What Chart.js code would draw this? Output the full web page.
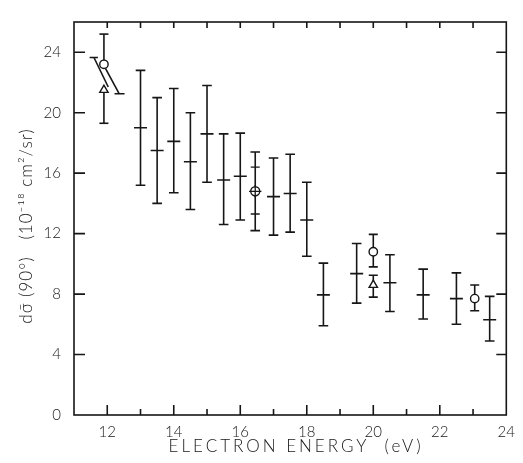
<!DOCTYPE html>
<html><head><meta charset="utf-8">
<script src="https://cdn.jsdelivr.net/npm/chart.js@4"></script>
<style>html,body{margin:0;padding:0;background:#fff;}</style>
</head><body>
<canvas id="c" width="523" height="463"></canvas>
<script>
// ---- data ----
const energies = [13, 13.5, 14, 14.5, 15, 15.5, 16, 17, 17.5, 18, 18.5, 19.5, 20.5, 21.5, 22.5, 23.5];
const values   = [19.0, 17.5, 18.1, 16.75, 18.6, 15.55, 15.8, 14.45, 14.65, 12.9, 7.95, 9.35, 8.75, 7.95, 7.7, 6.3];
const errLow   = [15.2, 14.0, 14.7, 13.6, 15.4, 12.6, 12.9, 11.9, 12.1, 10.5, 5.9, 7.4, 6.85, 6.35, 6.0, 4.9];
const errHigh  = [22.8, 21.0, 21.6, 20.0, 21.8, 18.6, 18.65, 17.0, 17.25, 15.4, 10.05, 11.35, 10.6, 9.65, 9.4, 7.85];

const circleE    = [11.9, 20.0, 23.05];
const circleV    = [23.2, 10.8, 7.7];
const circleLow  = [null, 9.8, 6.9];
const circleHigh = [25.2, 11.95, 8.6];

const triE    = [11.9, 20.0];
const triV    = [21.5, 8.6];
const triLow  = [19.3, 7.8];
const triHigh = [null, 9.25];

const crossE = [16.45];
const crossV = [14.8];
const crossLow = [12.2];
const crossHigh = [17.4];
const crossInner = [13.3, 16.4];

const bandLeftE = [11.6, 12.03];
const bandLeftV = [23.65, 21.7];
const bandRightE = [11.93, 12.36];
const bandRightV = [23.0, 21.25];
const bandTopCapE = [11.47, 11.72];
const bandTopCapV = [23.65, 23.65];
const bandBotCapE = [12.22, 12.52];
const bandBotCapV = [21.25, 21.25];

const xTickLabels = [12, 14, 16, 18, 20, 22, 24];
const yTickLabels = [0, 4, 8, 12, 16, 20, 24];

const INK = '#161616';
const pts = (xs, ys) => xs.map((x, i) => ({x, y: ys[i]}));

const errorBarPlugin = {
  id: 'errorBars',
  beforeDatasetsDraw(chart) {
    const ctx = chart.ctx, xs = chart.scales.x, ys = chart.scales.y;
    ctx.save();
    ctx.strokeStyle = INK; ctx.lineWidth = 1.6; ctx.lineCap = 'butt';
    const draw = (E, V, L, H, cap) => {
      E.forEach((e, i) => {
        const px = xs.getPixelForValue(e);
        const pv = ys.getPixelForValue(V[i]);
        const lo = L[i] == null ? pv : ys.getPixelForValue(L[i]);
        const hi = H[i] == null ? pv : ys.getPixelForValue(H[i]);
        ctx.beginPath(); ctx.moveTo(px, lo); ctx.lineTo(px, hi); ctx.stroke();
        ctx.beginPath();
        if (L[i] != null) { ctx.moveTo(px - cap, lo); ctx.lineTo(px + cap, lo); }
        if (H[i] != null) { ctx.moveTo(px - cap, hi); ctx.lineTo(px + cap, hi); }
        ctx.stroke();
      });
    };
    draw(energies, values, errLow, errHigh, 4.8);
    draw(circleE, circleV, circleLow, circleHigh, 4.5);
    draw(triE, triV, triLow, triHigh, 4.5);
    draw(crossE, crossV, crossLow, crossHigh, 4.8);
    ctx.restore();
  }
};

const framePlugin = {
  id: 'frame',
  afterDraw(chart) {
    const ctx = chart.ctx, a = chart.chartArea, xs = chart.scales.x, ys = chart.scales.y;
    ctx.save();
    ctx.strokeStyle = INK; ctx.lineWidth = 1.6;
    ctx.strokeRect(a.left, a.top, a.right - a.left, a.bottom - a.top);
    ctx.beginPath();
    xs.ticks.forEach(t => {
      const v = t.value;
      if (v <= xs.min || v >= xs.max) return;
      const px = xs.getPixelForValue(v);
      const len = (v % 2 === 0) ? 10 : 6;
      ctx.moveTo(px, a.bottom); ctx.lineTo(px, a.bottom - len);
      ctx.moveTo(px, a.top); ctx.lineTo(px, a.top + 6);
    });
    ys.ticks.forEach(t => {
      const v = t.value;
      if (v <= ys.min || v >= ys.max) return;
      const py = ys.getPixelForValue(v);
      ctx.moveTo(a.left, py); ctx.lineTo(a.left + 11, py);
      ctx.moveTo(a.right, py); ctx.lineTo(a.right - 10, py);
    });
    ctx.stroke();
    // axis titles
    ctx.fillStyle = INK;
    ctx.font = '300 17px Lato, "DejaVu Sans", sans-serif';
    ctx.letterSpacing = '3px';
    ctx.textAlign = 'center'; ctx.textBaseline = 'middle';
    ctx.fillText('ELECTRON ENERGY  (eV)', (a.left + a.right) / 2 + 6, 447);
    ctx.translate(27, 226);
    ctx.rotate(-Math.PI / 2);
    ctx.letterSpacing = '1px';
    ctx.font = '300 17px Lato, "DejaVu Sans", sans-serif';
    ctx.fillText('d\u03C3\u0304 (90\u00B0)   (10\u207B\u00B9\u2078 cm\u00B2/sr)', 0, 0);
    ctx.restore();
  }
};

const lineDs = (E, V) => ({
  type: 'line', data: pts(E, V), showLine: true, borderColor: INK, borderWidth: 1.6,
  pointRadius: 0, fill: false, tension: 0
});

new Chart(document.getElementById('c'), {
  type: 'scatter',
  data: {
    datasets: [
      { data: pts(energies, values), pointStyle: 'line', pointRadius: 6.5, borderColor: INK, borderWidth: 1.6, backgroundColor: INK },
      { data: crossInner.map(v => ({x: crossE[0], y: v})), pointStyle: 'line', pointRadius: 4.5, borderColor: INK, borderWidth: 1.4 },
      { data: pts(crossE, crossV), pointStyle: 'cross', pointRadius: 6.2, borderColor: INK, borderWidth: 1.3 },
      { data: pts(circleE, circleV), pointStyle: 'circle', pointRadius: 4.2, borderColor: INK, borderWidth: 1.4, backgroundColor: '#fff' },
      { data: pts(triE, triV), pointStyle: 'triangle', pointRadius: 4.8, borderColor: INK, borderWidth: 1.4, backgroundColor: '#fff' },
      { data: pts(crossE, crossV), pointStyle: 'circle', pointRadius: 4.5, borderColor: INK, borderWidth: 1.4, backgroundColor: '#fff' },
      lineDs(bandLeftE, bandLeftV),
      lineDs(bandRightE, bandRightV),
      lineDs(bandTopCapE, bandTopCapV),
      lineDs(bandBotCapE, bandBotCapV)
    ]
  },
  options: {
    responsive: false, animation: false, devicePixelRatio: 1,
    layout: { padding: { top: 13, right: 15, left: 0, bottom: 0 } },
    plugins: { legend: { display: false }, tooltip: { enabled: false } },
    scales: {
      x: {
        type: 'linear', min: 11, max: 24,
        grid: { display: false, drawTicks: false }, border: { display: false },
        ticks: {
          stepSize: 1, includeBounds: false, autoSkip: false, maxRotation: 0, padding: 8,
          color: INK, font: { family: 'Lato, "DejaVu Sans", sans-serif', size: 15, weight: 300 },
          callback: v => xTickLabels.includes(v) ? String(v) : ''
        },
        afterFit: s => { s.height = 48; }
      },
      y: {
        type: 'linear', min: 0, max: 26,
        grid: { display: false, drawTicks: false }, border: { display: false },
        ticks: {
          stepSize: 4, includeBounds: false, padding: 13,
          color: INK, font: { family: 'Lato, "DejaVu Sans", sans-serif', size: 15, weight: 300 },
          callback: v => yTickLabels.includes(v) ? String(v) : ''
        },
        afterFit: s => { s.width = 74; }
      }
    }
  },
  plugins: [errorBarPlugin, framePlugin]
});
</script>
</body></html>
